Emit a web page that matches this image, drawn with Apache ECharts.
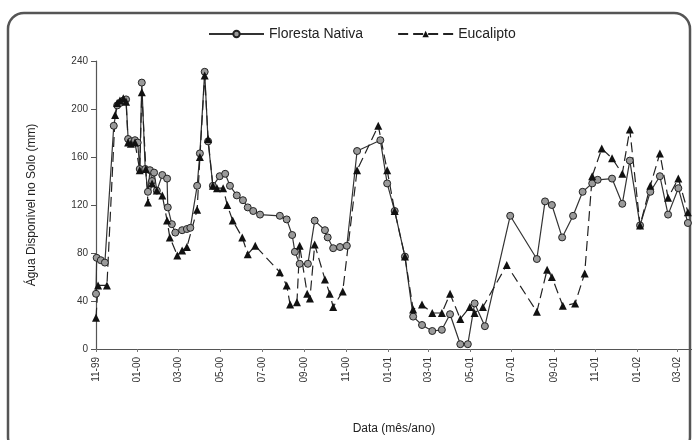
<!DOCTYPE html>
<html><head><meta charset="utf-8">
<script src="https://cdn.jsdelivr.net/npm/echarts@6/dist/echarts.min.js"></script>
<style>html,body{margin:0;padding:0;background:#fff}#c{width:692px;height:440px}</style>
</head><body><div id="c"></div>
<script>
var startDate = '1999-11-01';
var endDate = '2002-03-22';
var yTicks = [0, 40, 80, 120, 160, 200, 240];
var labelMonths = ['01', '03', '05', '07', '09', '11'];

var florestaNativa = [
 ['1999-11-01',46],['1999-11-02',76],['1999-11-08',74],['1999-11-14',72],['1999-11-27',186],
 ['1999-12-02',203],['1999-12-06',205],['1999-12-11',207],['1999-12-15',208],['1999-12-18',175],
 ['1999-12-22',173],['1999-12-28',174],['2000-01-01',172],['2000-01-04',150],['2000-01-07',222],
 ['2000-01-12',150],['2000-01-16',131],['2000-01-19',149],['2000-01-22',140],['2000-01-25',147],
 ['2000-01-29',132],['2000-02-06',145],['2000-02-13',142],['2000-02-14',118],['2000-02-20',104],
 ['2000-02-25',97],['2000-03-06',99],['2000-03-13',100],['2000-03-18',101],['2000-03-28',136],
 ['2000-04-01',163],['2000-04-08',231],['2000-04-13',173],['2000-04-20',136],['2000-04-30',144],
 ['2000-05-08',146],['2000-05-15',136],['2000-05-25',128],['2000-06-03',124],['2000-06-10',118],
 ['2000-06-18',115],['2000-06-28',112],['2000-07-27',111],['2000-08-06',108],['2000-08-14',95],
 ['2000-08-18',81],['2000-08-25',71],['2000-09-06',71],['2000-09-16',107],['2000-10-01',99],
 ['2000-10-05',93],['2000-10-13',84],['2000-10-23',85],['2000-11-02',86],['2000-11-17',165],
 ['2000-12-21',174],['2000-12-31',138],['2001-01-11',115],['2001-01-26',77],['2001-02-07',27],
 ['2001-02-20',20],['2001-03-07',15],['2001-03-21',16],['2001-04-02',29],['2001-04-17',4],
 ['2001-04-28',4],['2001-05-08',38],['2001-05-23',19],['2001-06-29',111],['2001-08-07',75],
 ['2001-08-19',123],['2001-08-29',120],['2001-09-13',93],['2001-09-29',111],['2001-10-13',131],
 ['2001-10-27',138],['2001-11-04',141],['2001-11-25',142],['2001-12-10',121],['2001-12-21',157],
 ['2002-01-05',103],['2002-01-20',131],['2002-02-03',144],['2002-02-15',112],['2002-03-02',134],
 ['2002-03-16',105]
];

var eucalipto = [
 ['1999-11-01',26],['1999-11-04',53],['1999-11-17',53],['1999-11-29',195],['1999-12-02',205],
 ['1999-12-06',207],['1999-12-11',209],['1999-12-15',206],['1999-12-18',172],['1999-12-22',171],
 ['1999-12-28',172],['2000-01-04',149],['2000-01-07',214],['2000-01-13',150],['2000-01-16',122],
 ['2000-01-22',138],['2000-01-29',132],['2000-02-06',128],['2000-02-13',107],['2000-02-17',93],
 ['2000-02-28',78],['2000-03-06',82],['2000-03-13',85],['2000-03-28',116],['2000-04-01',160],
 ['2000-04-08',228],['2000-04-13',175],['2000-04-20',136],['2000-04-26',134],['2000-05-05',134],
 ['2000-05-11',120],['2000-05-19',107],['2000-06-02',93],['2000-06-10',79],['2000-06-21',86],
 ['2000-07-27',64],['2000-08-06',53],['2000-08-11',37],['2000-08-21',39],['2000-08-25',86],
 ['2000-09-05',46],['2000-09-09',42],['2000-09-16',87],['2000-10-01',58],['2000-10-08',46],
 ['2000-10-13',35],['2000-10-27',48],['2000-11-17',149],['2000-12-18',186],['2000-12-31',149],
 ['2001-01-11',115],['2001-01-26',77],['2001-02-07',33],['2001-02-20',37],['2001-03-07',30],
 ['2001-03-21',30],['2001-04-02',46],['2001-04-17',25],['2001-05-01',35],['2001-05-08',30],
 ['2001-05-20',35],['2001-06-24',70],['2001-08-07',31],['2001-08-22',66],['2001-08-29',60],
 ['2001-09-14',36],['2001-10-02',38],['2001-10-16',63],['2001-10-27',144],['2001-11-10',167],
 ['2001-11-25',159],['2001-12-10',146],['2001-12-21',183],['2002-01-05',103],['2002-01-20',136],
 ['2002-02-03',163],['2002-02-15',126],['2002-03-02',142],['2002-03-16',114]
];

// daily categories for the date axis
var days = [];
(function(){
  var d = new Date(startDate + 'T00:00:00Z'), e = new Date(endDate + 'T00:00:00Z');
  while (d <= e) { days.push(d.toISOString().slice(0,10)); d.setUTCDate(d.getUTCDate()+1); }
})();
function isLabelDay(idx, val) {
  return val.slice(8,10) === '01' && labelMonths.indexOf(val.slice(5,7)) >= 0;
}

var chart = echarts.init(document.getElementById('c'), null, {renderer:'canvas'});
chart.setOption({
  animation: false,
  backgroundColor: '#fff',
  textStyle: {fontFamily: 'Liberation Sans, Arial, sans-serif'},
  graphic: [{
    type: 'rect', silent: true,
    shape: {x: 8, y: 13, width: 682, height: 440, r: 16},
    style: {fill: 'none', stroke: '#555', lineWidth: 2.5}
  }],
  legend: {
    left: 203, top: 22, itemGap: 34, itemWidth: 55, itemHeight: 8,
    textStyle: {fontSize: 14, color: '#222'},
    data: ['Floresta Nativa', 'Eucalipto']
  },
  grid: {left: 96, right: 0, top: 61, bottom: 87},
  xAxis: {
    type: 'category', data: days, boundaryGap: false,
    name: 'Data (mês/ano)', nameLocation: 'middle', nameGap: 74,
    nameTextStyle: {fontSize: 12, color: '#222'},
    axisLine: {lineStyle: {color: '#555', width: 1.2}},
    axisTick: {interval: isLabelDay, length: 3, lineStyle: {color: '#777'}},
    axisLabel: {
      interval: isLabelDay, rotate: 90, fontSize: 10, color: '#333', margin: 8,
      formatter: function(v){ return v.slice(5,7) + '-' + v.slice(2,4); }
    }
  },
  yAxis: {
    type: 'value', min: 0, max: 240, interval: 40,
    name: 'Água Disponível no Solo (mm)', nameLocation: 'middle', nameGap: 58,
    nameTextStyle: {fontSize: 12, color: '#222'},
    axisLine: {show: true, lineStyle: {color: '#555', width: 1.2}},
    axisTick: {show: true, length: 5, lineStyle: {color: '#555'}},
    splitLine: {show: false},
    axisLabel: {fontSize: 10, color: '#333', margin: 8,
      formatter: function(v){ return yTicks.indexOf(v) >= 0 ? String(v) : ''; }}
  },
  series: [{
    name: 'Floresta Nativa', type: 'line', data: florestaNativa,
    symbol: 'circle', symbolSize: 7, showAllSymbol: true,
    lineStyle: {color: '#333', width: 1.2},
    itemStyle: {color: '#9a9a9a', borderColor: '#222', borderWidth: 1}
  }, {
    name: 'Eucalipto', type: 'line', data: eucalipto,
    symbol: 'triangle', symbolSize: 8, showAllSymbol: true,
    lineStyle: {color: '#222', width: 1.2, type: [10, 5]},
    itemStyle: {color: '#111'}
  }]
});
</script></body></html>
